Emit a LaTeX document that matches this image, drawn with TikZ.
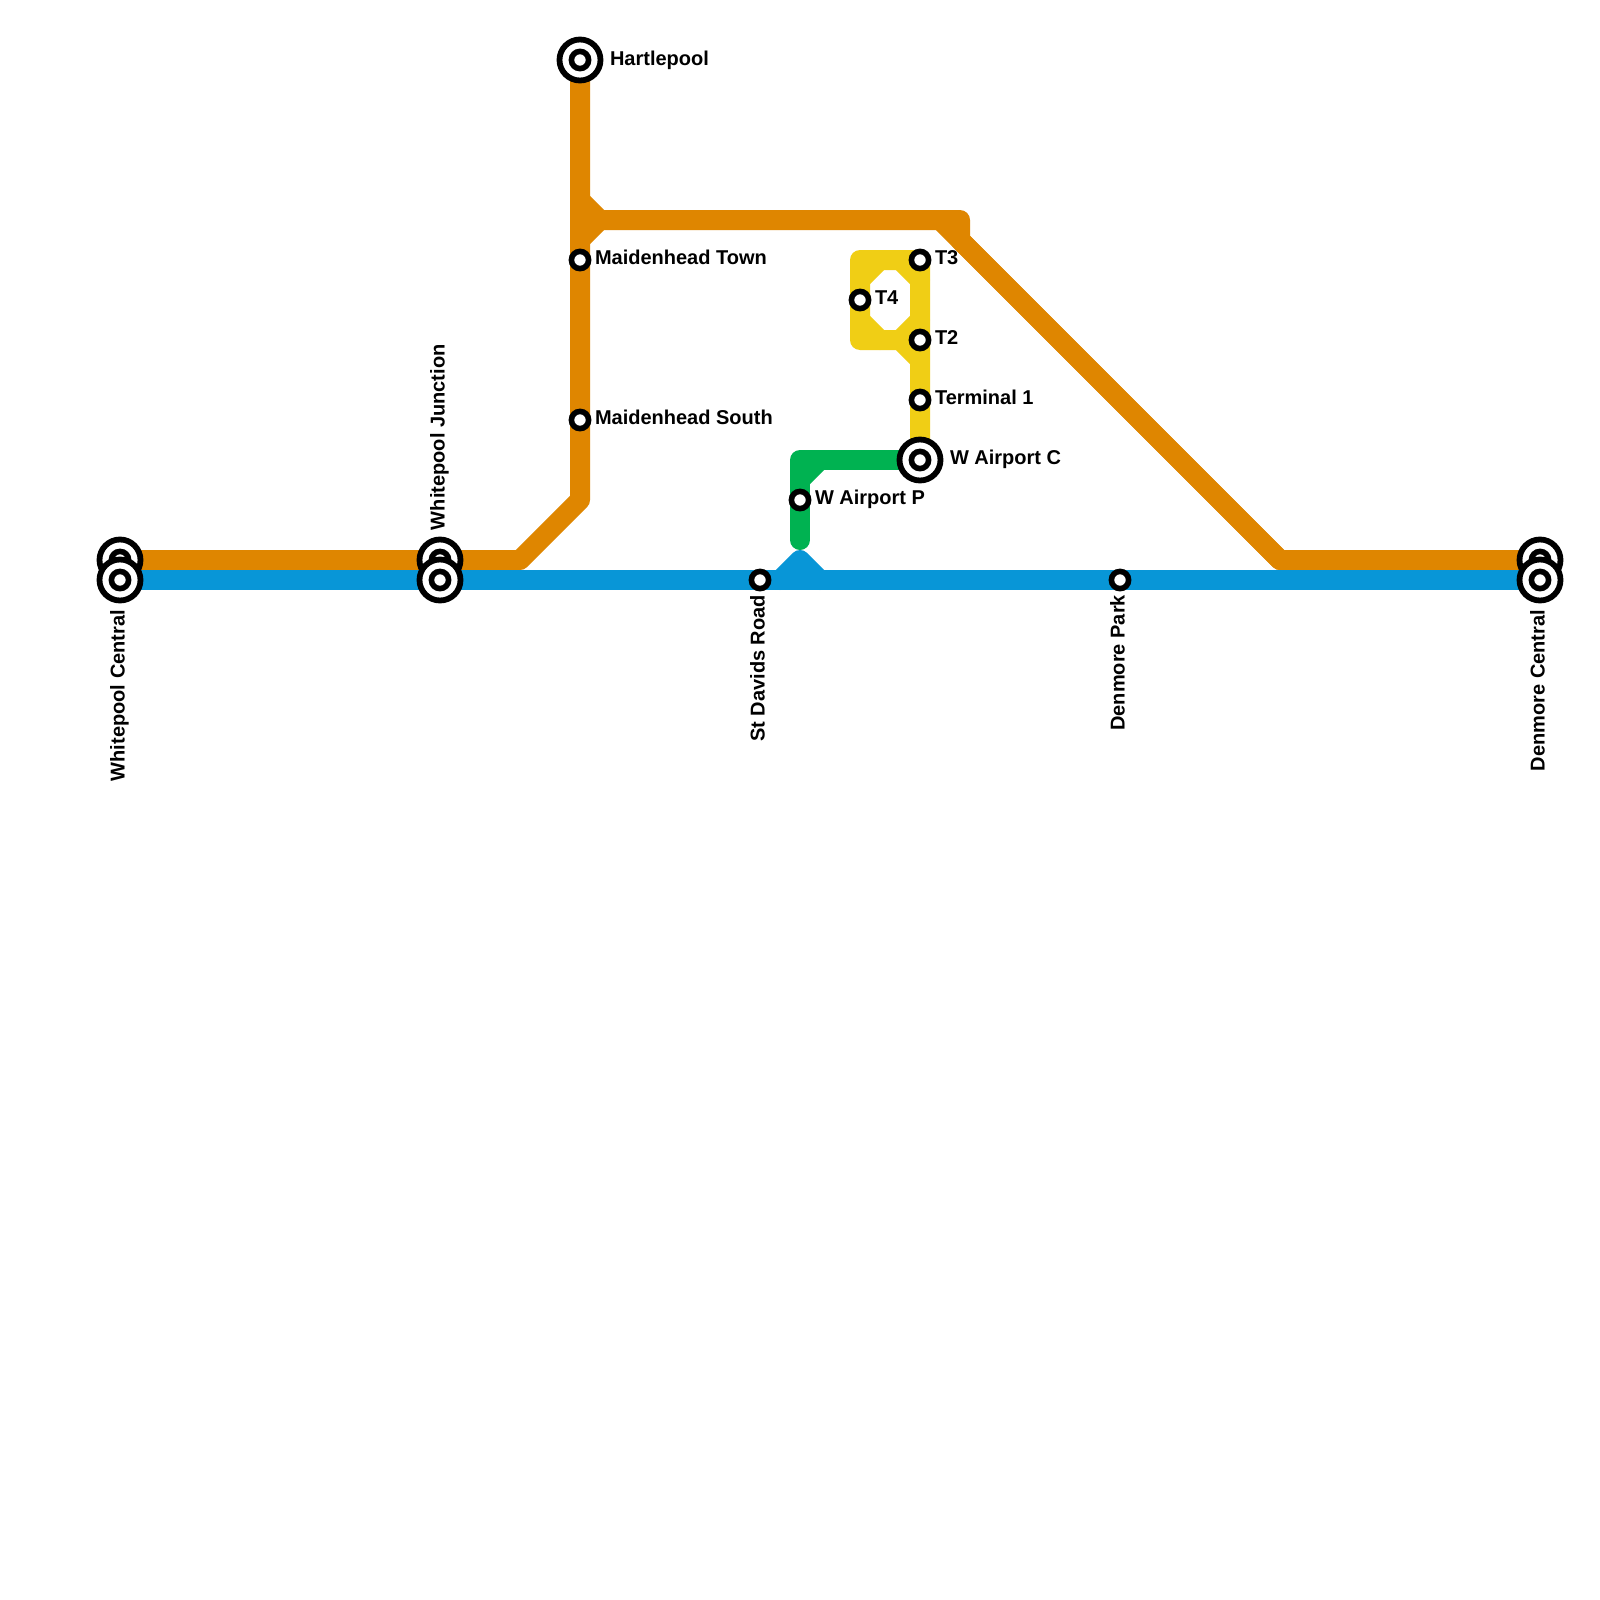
\documentclass[tikz,border=0pt]{standalone}
\usepackage{fontspec}
\setmainfont{Liberation Sans}
\definecolor{orangeline}{HTML}{DF8600}
\definecolor{blueline}{HTML}{0896D7}
\definecolor{greenline}{HTML}{00B251}
\definecolor{yellowline}{HTML}{F0CE15}
\tikzset{
  railline/.style={line width=20pt,line cap=round,line join=round},
  stop/.style={circle,draw=black,fill=white,line width=5.6pt,minimum size=17.2pt,inner sep=0pt,outer sep=0pt},
  hub/.style={circle,draw=black,fill=white,line width=5.8pt,minimum size=41pt,inner sep=0pt,outer sep=0pt},
  lab/.style={font=\bfseries\fontsize{20pt}{24pt}\selectfont,inner sep=0pt,outer sep=0pt,text=black,anchor=base west},
  vlabdown/.style={font=\bfseries\fontsize{20pt}{24pt}\selectfont,inner sep=0pt,outer sep=0pt,text=black,rotate=90,anchor=base east},
  vlabup/.style={font=\bfseries\fontsize{20pt}{24pt}\selectfont,inner sep=0pt,outer sep=0pt,text=black,rotate=90,anchor=base west}
}
\begin{document}
\begin{tikzpicture}[x=1pt,y=-1pt]
\useasboundingbox (0,0) rectangle (1600,1600);
\fill[white] (0,0) rectangle (1600,1600);
% way points
\coordinate (wc) at (120,580); \coordinate (wco) at (120,560);
\coordinate (wj) at (440,580); \coordinate (wjo) at (440,560);
\coordinate (sd) at (760,580); \coordinate (dp) at (1120,580);
\coordinate (dc) at (1540,580); \coordinate (dco) at (1540,560);
\coordinate (ha) at (580,60); \coordinate (mt) at (580,260); \coordinate (ms) at (580,420);
\coordinate (t3) at (920,260); \coordinate (t4) at (860,300); \coordinate (t2) at (920,340);
\coordinate (t1) at (920,400); \coordinate (wac) at (920,460); \coordinate (wap) at (800,500);
\coordinate (o1) at (520,560); \coordinate (o2) at (580,500);
\coordinate (o3) at (580,200); \coordinate (o4) at (600,220); \coordinate (o5) at (580,240);
\coordinate (o6) at (960,220); \coordinate (o7) at (960,240); \coordinate (o8) at (940,220);
\coordinate (o9) at (1280,560);
\coordinate (b1) at (780,580); \coordinate (b2) at (800,560); \coordinate (b3) at (820,580);
\coordinate (g1) at (800,460); \coordinate (g2) at (800,540); \coordinate (g3) at (800,480); \coordinate (g4) at (820,460);
\coordinate (y1) at (860,260); \coordinate (y2) at (860,340); \coordinate (y3) at (900,340); \coordinate (y4) at (920,360);
\coordinate (y5) at (860,280); \coordinate (y6) at (880,260);
\coordinate (y7) at (860,320); \coordinate (y8) at (880,340);
\coordinate (y9) at (900,260); \coordinate (y10) at (920,280);
\coordinate (y11) at (920,320);
% lines
\draw[railline,orangeline] (wco) -- (o1) -- (o2) -- (ha);
\draw[railline,orangeline] (o3) -- (o4) -- (o5);
\draw[railline,orangeline] (o4) -- (o6) -- (o7) -- (o9) -- (dco);
\draw[railline,orangeline] (o8) -- (o9);
\draw[railline,blueline] (wc) -- (dc);
\draw[railline,blueline] (b1) -- (b2) -- (b3);
\draw[railline,yellowline] (wac) -- (t3) -- (y1) -- (y2) -- (y3) -- (y4);
\draw[railline,yellowline] (y5) -- (y6);
\draw[railline,yellowline] (y7) -- (y8);
\draw[railline,yellowline] (y9) -- (y10);
\draw[railline,yellowline] (y11) -- (y3);
\draw[railline,greenline] (wac) -- (g1) -- (g2);
\draw[railline,greenline] (g3) -- (g4);
% stations
\node[hub] (wcoh) at (wco) {}; \node[stop] (wcos) at (wco) {};
\node[hub] (wjoh) at (wjo) {}; \node[stop] (wjos) at (wjo) {};
\node[hub] (dcoh) at (dco) {}; \node[stop] (dcos) at (dco) {};
\node[hub] (wch) at (wc) {}; \node[stop] (wcs) at (wc) {};
\node[hub] (wjh) at (wj) {}; \node[stop] (wjs) at (wj) {};
\node[hub] (dch) at (dc) {}; \node[stop] (dcs) at (dc) {};
\node[hub] (hah) at (ha) {}; \node[stop] (has) at (ha) {};
\node[hub] (wach) at (wac) {}; \node[stop] (wacs) at (wac) {};
\node[stop] (sds) at (sd) {};
\node[stop] (dps) at (dp) {};
\node[stop] (mts) at (mt) {};
\node[stop] (mss) at (ms) {};
\node[stop] (t3s) at (t3) {};
\node[stop] (t4s) at (t4) {};
\node[stop] (t2s) at (t2) {};
\node[stop] (t1s) at (t1) {};
\node[stop] (waps) at (wap) {};
% labels
\node[lab] (lha) at (610,65.5) {Hartlepool};
\node[lab] (lmt) at (595,264.5) {Maidenhead Town};
\node[lab] (lms) at (595,424.5) {Maidenhead South};
\node[lab] (lt3) at (935,264.5) {T3};
\node[lab] (lt4) at (875,304.5) {T4};
\node[lab] (lt2) at (935,344.5) {T2};
\node[lab] (lt1) at (935,404.5) {Terminal 1};
\node[lab] (lwac) at (950,464.5) {W Airport C};
\node[lab] (lwap) at (815,504.5) {W Airport P};
\node[vlabup] (lwj) at (444.5,530) {Whitepool Junction};
\node[vlabdown] (lwc) at (124.5,610) {Whitepool Central};
\node[vlabdown] (lsd) at (764.5,595) {St Davids Road};
\node[vlabdown] (ldp) at (1124.5,595) {Denmore Park};
\node[vlabdown] (ldc) at (1544.5,610) {Denmore Central};
\end{tikzpicture}
\end{document}
